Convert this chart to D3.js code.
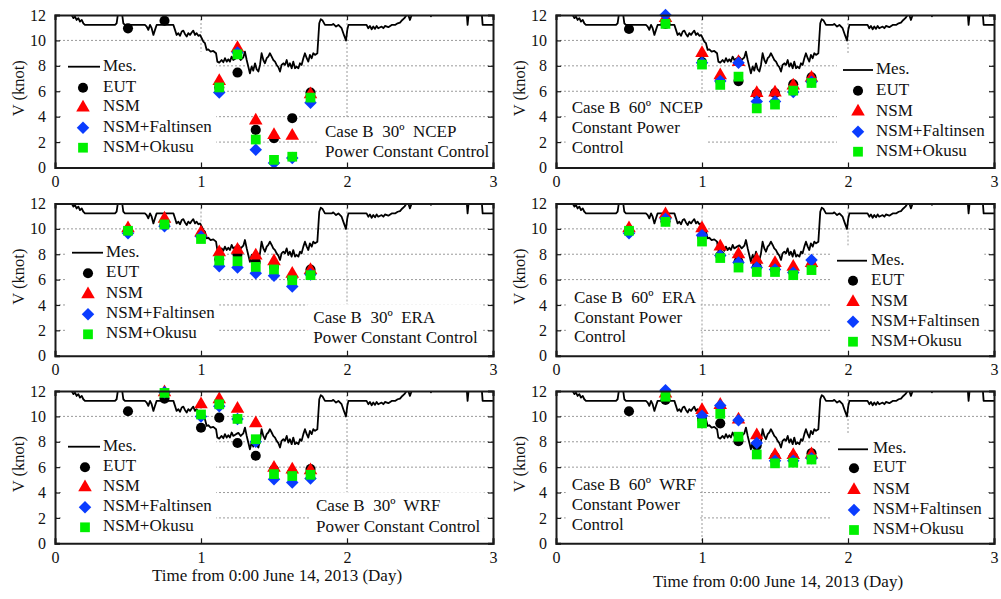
<!DOCTYPE html>
<html><head><meta charset="utf-8">
<script src="https://cdn.jsdelivr.net/npm/d3@7"></script>
<style>
body{margin:0;background:#fff;}
svg{display:block;font-family:"Liberation Serif","Times New Roman",serif;}
text{white-space:pre;}
</style></head><body>
<svg id="chart" width="1001" height="599"></svg>
<script>
// ---------------- DATA ----------------
const days = [0.5, 0.75, 1.0, 1.125, 1.25, 1.375, 1.5, 1.625, 1.75];
const xTicks = [0, 1, 2, 3];
const yTicks = [0, 2, 4, 6, 8, 10, 12];
const seriesNames = ["EUT", "NSM", "NSM+Faltinsen", "NSM+Okusu"];

// measured speed (Mes.)
const mesT = [0, 0.105, 0.114, 0.126, 0.137, 0.148, 0.160, 0.171, 0.183, 0.194, 0.205, 0.411, 0.422, 0.434, 0.457, 0.468, 0.479,
  0.616, 0.628, 0.639, 0.651, 0.662, 0.674, 0.685, 0.696, 0.811, 0.822, 0.833, 0.845, 0.856, 0.868, 0.879, 0.890, 0.902, 0.913,
  0.925, 0.936, 0.947, 0.959, 0.970, 0.982, 0.993, 1.005, 1.016, 1.027, 1.039, 1.050, 1.066, 1.084, 1.103, 1.112, 1.125, 1.141,
  1.153, 1.164, 1.176, 1.187, 1.198, 1.210, 1.221, 1.240, 1.256, 1.272, 1.290, 1.301, 1.313, 1.324, 1.335, 1.347, 1.358, 1.370,
  1.381, 1.393, 1.404, 1.415, 1.427, 1.438, 1.450, 1.461, 1.472, 1.484, 1.495, 1.507, 1.518, 1.530, 1.541, 1.552, 1.564, 1.575,
  1.587, 1.598, 1.609, 1.621, 1.632, 1.644, 1.655, 1.667, 1.678, 1.689, 1.701, 1.712, 1.724, 1.735, 1.746, 1.758, 1.769, 1.781,
  1.797, 1.810, 1.820, 1.833, 1.849, 1.895, 1.906, 1.925, 1.941, 1.963, 1.979, 1.993, 2.002, 2.010, 2.134, 2.146, 2.157, 2.169,
  2.180, 2.192, 2.203, 2.214, 2.237, 2.249, 2.260, 2.283, 2.306, 2.329, 2.347, 2.363, 2.379, 2.393, 2.408, 2.420, 2.431, 2.443,
  2.454, 2.568, 2.575, 2.584, 2.819, 2.826, 2.835, 2.922, 2.929, 3.0];
const mesV = [12.3, 12.3, 12.0, 11.75, 11.88, 11.61, 11.75, 11.48, 11.61, 11.35, 11.22, 11.22, 11.35, 12.3, 12.3, 11.35, 11.22,
  11.22, 11.09, 10.83, 11.22, 10.96, 10.43, 10.83, 11.22, 11.22, 10.83, 10.43, 10.57, 10.36, 10.70, 10.77, 10.51, 10.30, 10.57,
  10.43, 10.62, 10.77, 10.43, 10.57, 10.36, 10.43, 10.17, 9.91, 9.78, 9.25, 9.30, 9.12, 9.17, 8.99, 8.33, 8.25, 8.46,
  8.28, 8.60, 8.33, 8.51, 8.33, 8.73, 8.46, 8.60, 8.70, 8.46, 8.67, 9.12, 8.46, 7.94, 7.41, 7.94, 7.62, 8.20,
  7.73, 7.55, 8.07, 8.99, 8.46, 8.20, 8.60, 8.73, 8.99, 8.73, 8.46, 8.33, 8.07, 7.89, 7.55, 8.07, 8.20, 8.07,
  8.46, 7.94, 8.20, 7.81, 8.33, 7.81, 7.94, 7.81, 8.20, 8.07, 8.60, 8.99, 8.60, 8.33, 8.86, 8.60, 8.99, 8.86,
  8.99, 11.35, 11.67, 11.56, 11.22, 11.22, 11.30, 11.09, 11.22, 10.96, 10.43, 9.99, 10.83, 11.22, 11.22, 10.96, 11.14, 10.88,
  11.09, 10.91, 11.14, 10.96, 11.09, 10.96, 11.14, 11.04, 11.22, 11.22, 11.35, 11.40, 11.61, 11.75, 12.0, 12.0, 11.61, 12.0,
  12.3, 12.3, 11.9, 12.3, 12.3, 11.22, 12.3, 12.3, 11.22, 11.22];

// Case B 30º NCEP
const eut30ncep = [10.95, 11.55, null, 6.3, 7.47, 2.96, 2.3, 3.88, 5.9];
const nsm30ncep = [null, null, null, 6.8, 9.4, 3.7, 2.55, 2.5, 5.75];
const fal30ncep = [null, null, null, 5.9, 9.05, 1.4, 0.35, 0.75, 5.1];
const oku30ncep = [null, null, null, 6.3, 8.9, 2.2, 0.6, 0.85, 5.5];
// Case B 60º NCEP
const eut60ncep = [10.9, 11.3, 8.3, 6.8, 6.8, 5.8, 5.85, 6.55, 7.1];
const nsm60ncep = [null, 11.75, 9.0, 7.25, 8.3, 5.85, 5.9, 6.45, 7.05];
const fal60ncep = [null, 12.0, 8.25, 6.8, 8.25, 5.2, 5.2, 5.95, 6.75];
const oku60ncep = [null, 11.3, 8.1, 6.5, 7.15, 4.65, 4.95, 6.05, 6.65];
// Case B 30º ERA
const eut30era = [9.9, 10.3, 9.5, 7.6, 8.0, 7.4, 7.0, 6.1, 6.8];
const nsm30era = [10.05, 10.8, 9.7, 8.15, 8.35, 7.9, 7.45, 6.45, 6.75];
const fal30era = [9.65, 10.2, 9.4, 7.05, 6.95, 6.5, 6.3, 5.45, 6.4];
const oku30era = [9.85, 10.35, 9.2, 7.5, 7.45, 7.0, 6.8, 5.95, 6.35];
// Case B 60º ERA
const eut60era = [9.9, 10.6, 9.4, 7.9, 7.4, 7.0, 6.8, 6.6, 7.1];
const nsm60era = [10.05, 11.15, 10.05, 8.6, 8.0, 7.55, 7.3, 7.0, 7.3];
const fal60era = [9.65, 10.8, 9.5, 7.9, 7.35, 6.95, 6.8, 6.55, 7.55];
const oku60era = [9.85, 10.55, 9.0, 7.7, 6.95, 6.6, 6.6, 6.35, 6.75];
// Case B 30º WRF
const eut30wrf = [10.4, 11.4, 9.1, 9.9, 7.9, 6.9, 5.8, 5.6, 5.85];
const nsm30wrf = [null, 11.9, 10.95, 11.35, 10.6, 9.45, 5.95, 5.8, 5.75];
const fal30wrf = [null, 11.9, 10.0, 10.8, 9.8, 8.0, 5.05, 4.8, 5.1];
const oku30wrf = [null, 11.85, 10.15, 10.95, 9.8, 8.2, 5.45, 5.3, 5.4];
// Case B 60º WRF
const eut60wrf = [10.4, 11.3, 9.8, 9.45, 8.05, 7.7, 6.8, 6.8, 7.1];
const nsm60wrf = [null, 11.8, 10.5, 10.9, 9.75, 8.5, 6.95, 6.95, 7.0];
const fal60wrf = [null, 12.05, 10.05, 10.85, 9.7, 7.9, 6.5, 6.5, 6.7];
const oku60wrf = [null, 11.55, 9.45, 10.2, 8.4, 7.0, 6.3, 6.35, 6.6];

const panelTexts = [
  ["Case B  30º  NCEP", "Power Constant Control"],
  ["Case B  60º  NCEP", "Constant Power", "Control"],
  ["Case B  30º  ERA", "Power Constant Control"],
  ["Case B  60º  ERA", "Constant Power", "Control"],
  ["Case B  30º  WRF", "Power Constant Control"],
  ["Case B  60º  WRF", "Constant Power", "Control"]
];
const panelSeries = [
  [eut30ncep, nsm30ncep, fal30ncep, oku30ncep],
  [eut60ncep, nsm60ncep, fal60ncep, oku60ncep],
  [eut30era, nsm30era, fal30era, oku30era],
  [eut60era, nsm60era, fal60era, oku60era],
  [eut30wrf, nsm30wrf, fal30wrf, oku30wrf],
  [eut60wrf, nsm60wrf, fal60wrf, oku60wrf]
];
const yTitle = "V (knot)";
const xTitle = "Time from 0:00 June 14, 2013 (Day)";

// ---------------- LAYOUT / STYLE ----------------
const FONT = "Liberation Serif, Times New Roman, serif";
const colX = [[55, 493], [556, 994]];
const rowY = [[15, 167.5], [203.5, 355.7], [391, 543.3]];
const legendLayout = [
  {lx0: 68, lx1: 100, mx: 83, tx: 103, ys: [66.7, 87.7, 107.5, 127.7, 147.7]},
  {lx0: 843, lx1: 873, mx: 858, tx: 876, ys: [70, 90.7, 111.7, 131.7, 151.7]},
  {lx0: 72, lx1: 103, mx: 88, tx: 106, ys: [252.7, 273.3, 294.3, 314.3, 334.3]},
  {lx0: 837, lx1: 867, mx: 853, tx: 871, ys: [260.7, 280.7, 302, 321.7, 341.7]},
  {lx0: 68, lx1: 100, mx: 85, tx: 103, ys: [446.7, 467.3, 487.3, 507.3, 527.3]},
  {lx0: 838, lx1: 868, mx: 854, tx: 873, ys: [449.3, 468.3, 490, 510, 530]}
];
const annLayout = [
  {x: 325, ys: [133, 153]},
  {x: 571.7, ys: [109.5, 129.5, 149.3]},
  {x: 313.3, ys: [319.3, 339.3]},
  {x: 574, ys: [299, 319.3, 338.3]},
  {x: 316, ys: [507.3, 527.7]},
  {x: 571.7, ys: [485.7, 506, 526]}
];
const colors = ["#000000", "#ff0000", "#0a3cff", "#00f000"];
const symbols = [d3.symbolCircle, d3.symbolTriangle, d3.symbolSquare, d3.symbolSquare];
const symSizes = [80, 80, 78, 95];
const symRot = [0, 0, 45, 0];

const svg = d3.select("#chart");

function marker(g, i, x, y) {
  g.append("path")
    .attr("d", d3.symbol().type(symbols[i]).size(symSizes[i])())
    .attr("transform", `translate(${x},${y}) rotate(${symRot[i]})`)
    .attr("fill", colors[i]);
}

panelSeries.forEach((series, p) => {
  const col = p % 2, row = Math.floor(p / 2);
  const [x0, x1] = colX[col];
  const [y0, y1] = rowY[row];
  const x = d3.scaleLinear().domain([0, 3]).range([x0, x1]);
  const y = d3.scaleLinear().domain([0, 12]).range([y1, y0]);
  const g = svg.append("g");

  // grid
  const grid = g.append("g").attr("stroke", "#9a9a9a").attr("stroke-width", 1).attr("stroke-dasharray", "2,2");
  grid.selectAll(".gx").data(xTicks.filter(t => t > 0 && t < 3)).enter().append("line")
    .attr("x1", d => x(d)).attr("x2", d => x(d)).attr("y1", y0).attr("y2", y1);
  grid.selectAll(".gy").data(yTicks.filter(t => t > 0 && t < 12)).enter().append("line")
    .attr("y1", d => y(d)).attr("y2", d => y(d)).attr("x1", x0).attr("x2", x1);

  const boxLayer = g.append("g");

  const cid = "clip" + p;
  svg.append("clipPath").attr("id", cid).append("rect")
    .attr("x", x0).attr("y", y0).attr("width", x1 - x0).attr("height", y1 - y0);

  const mes = mesT.map((t, i) => [t, mesV[i]]);
  g.append("path").datum(mes)
    .attr("clip-path", `url(#${cid})`)
    .attr("fill", "none").attr("stroke", "#000").attr("stroke-width", 1.8)
    .attr("stroke-linejoin", "round")
    .attr("d", d3.line().x(d => x(d[0])).y(d => y(d[1])));

  series.forEach((vals, si) => {
    vals.forEach((v, k) => {
      if (v === null) return;
      marker(g, si, x(days[k]), y(v));
    });
  });

  const axG = g.append("g");
  const aL = axG.append("g").attr("transform", `translate(${x0},0)`)
    .call(d3.axisLeft(y).tickValues(yTicks).tickSize(-5).tickPadding(9).tickFormat(d3.format("d")));
  const aR = axG.append("g").attr("transform", `translate(${x1},0)`)
    .call(d3.axisRight(y).tickValues(yTicks).tickSize(-5).tickFormat(""));
  const aB = axG.append("g").attr("transform", `translate(0,${y1})`)
    .call(d3.axisBottom(x).tickValues(xTicks).tickSize(-5).tickPadding(8).tickFormat(d3.format("d")));
  const aT = axG.append("g").attr("transform", `translate(0,${y0})`)
    .call(d3.axisTop(x).tickValues(xTicks).tickSize(-5).tickFormat(""));
  [aL, aR, aB, aT].forEach(a => {
    a.attr("font-size", 16).attr("font-family", FONT);
    a.select(".domain").attr("stroke", "#1a1a1a").attr("stroke-width", 2);
    a.selectAll(".tick line").attr("stroke", "#1a1a1a").attr("stroke-width", 1.2);
    a.selectAll("text").attr("fill", "#111").style("font-family", FONT).style("font-size", "16px");
  });

  g.append("text").text(yTitle)
    .attr("transform", `translate(${col === 0 ? 20 : 521},${(y0 + y1) / 2 - 3}) rotate(-90)`)
    .attr("text-anchor", "middle").attr("dominant-baseline", "middle")
    .attr("font-size", 16.5).attr("fill", "#111");

  const L = legendLayout[p];
  const leg = g.append("g").attr("font-size", 17).attr("fill", "#111");
  leg.append("line").attr("x1", L.lx0).attr("x2", L.lx1).attr("y1", L.ys[0]).attr("y2", L.ys[0])
    .attr("stroke", "#000").attr("stroke-width", 1.8);
  leg.append("text").text("Mes.").attr("x", L.tx).attr("y", L.ys[0]).attr("dominant-baseline", "middle");
  seriesNames.forEach((nm, i) => {
    marker(leg, i, L.mx, L.ys[i + 1]);
    leg.append("text").text(nm).attr("x", L.tx).attr("y", L.ys[i + 1]).attr("dominant-baseline", "middle");
  });

  const A = annLayout[p];
  const ann = g.append("g").attr("font-size", 17).attr("fill", "#111");
  panelTexts[p].forEach((t, i) => {
    ann.append("text").text(t).attr("x", A.x).attr("y", A.ys[i]).attr("dominant-baseline", "middle");
  });

  [leg, ann].forEach(grp => {
    const b = grp.node().getBBox();
    const bx0 = Math.max(x0 + 1, b.x - 6), bx1 = Math.min(x1 - 1, b.x + b.width + 4);
    const by0 = b.y - 4, by1 = Math.min(y1 - 1, b.y + b.height + 20);
    boxLayer.append("rect").attr("x", bx0).attr("y", by0)
      .attr("width", bx1 - bx0).attr("height", by1 - by0).attr("fill", "#fff");
  });
});

svg.append("text").text(xTitle).attr("x", 277).attr("y", 577)
  .attr("text-anchor", "middle").attr("dominant-baseline", "middle").attr("font-size", 17).attr("fill", "#111");
svg.append("text").text(xTitle).attr("x", 778).attr("y", 583)
  .attr("text-anchor", "middle").attr("dominant-baseline", "middle").attr("font-size", 17).attr("fill", "#111");
</script>
</body></html>
